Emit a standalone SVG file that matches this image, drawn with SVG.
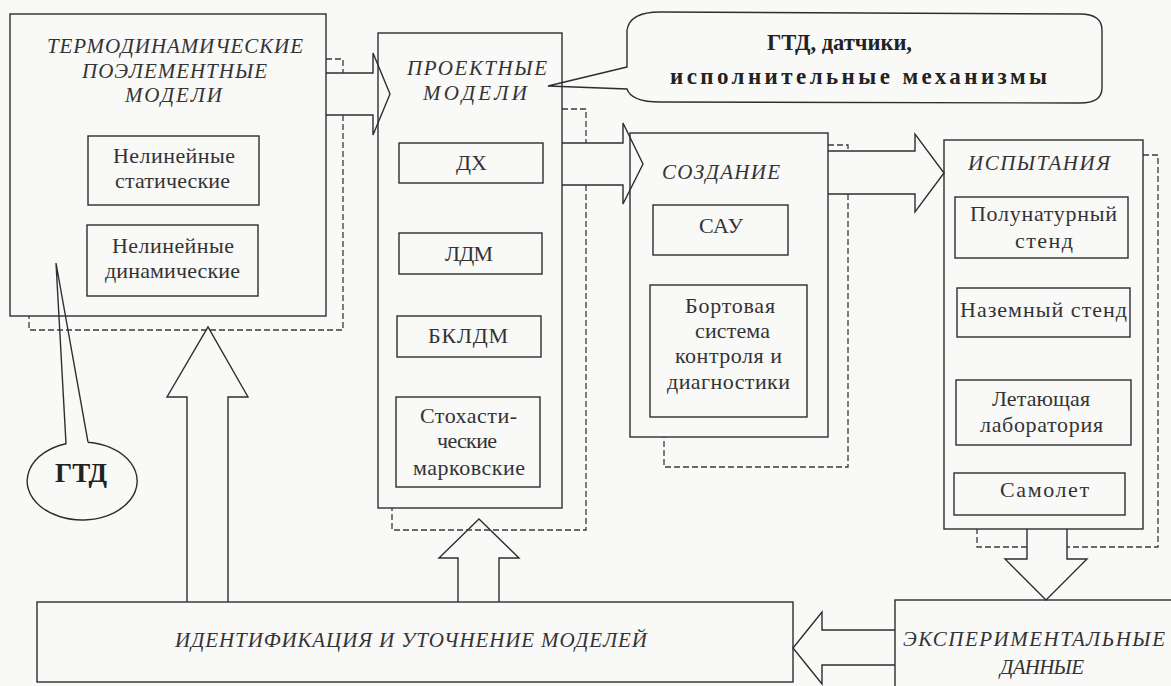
<svg xmlns="http://www.w3.org/2000/svg" width="1171" height="686" viewBox="0 0 1171 686">
<style>
  .bx{fill:none;stroke:#2e2e2e;stroke-width:1.4}
  .ds{fill:none;stroke:#3a3a3a;stroke-width:1.3;stroke-dasharray:6 3}
  .ar{fill:none;stroke:#2e2e2e;stroke-width:1.4;stroke-linejoin:miter}
  .h{font-family:"Liberation Serif","Times New Roman",serif;font-style:italic;font-size:21px;fill:#333}
  .t{font-family:"Liberation Serif","Times New Roman",serif;font-size:22px;fill:#333}
  .b{font-family:"Liberation Serif","Times New Roman",serif;font-weight:bold;font-size:23px;fill:#222}
</style>
<rect x="0" y="0" width="1171" height="686" fill="#f9f9f8"/>

<g id="connectors">
  <!-- box1 -> box2 -->
  <path class="ar" d="M326,73 H373 V53 L390,94 L373,135 V115 H326"/>
  <!-- box2 -> box3 -->
  <path class="ar" d="M562,143 H623 V123 L643,164 L623,204 V185 H562"/>
  <!-- box3 -> box4 -->
  <path class="ar" d="M828,151 H915 V134 L944,173 L915,212 V194 H828"/>
  <!-- box4 -> experimental data -->
  <path class="ar" d="M1027,529 V559 H1005 L1046,600 L1087,559 H1067 V529"/>
  <!-- experimental data -> identification -->
  <path class="ar" d="M895,630 H822 V612 L793,648 L822,684 V665 H895"/>
  <!-- identification -> box1 -->
  <path class="ar" d="M187,602 V397 H167 L208,327 L248,397 H228 V602"/>
  <!-- identification -> box2 -->
  <path class="ar" d="M458,602 V558 H439 L479,519 L519,558 H499 V602"/>
</g>

<g id="callout-gtd-sensors">
  <path class="bx" d="M627,67 L548,86 L627,89 C630,98 640,102 660,102 L1080,103 Q1102,103 1102,88 L1102,30 Q1102,14 1080,14 L660,12 Q630,12 627,30 Z"/>
  <text class="b" x="767" y="50" textLength="145" lengthAdjust="spacingAndGlyphs">ГТД, датчики,</text>
  <text class="b" x="670" y="84" textLength="377" lengthAdjust="spacing">исполнительные механизмы</text>
</g>

<g id="callout-gtd">
  <path class="bx" d="M88,442.2 L56,263 L66,443.7 A55 39 0 1 0 88,442.2"/>
  <text x="81" y="482" text-anchor="middle" style="font-family:'Liberation Serif','Times New Roman',serif;font-weight:bold;font-size:27px;fill:#222">ГТД</text>
</g>

<g id="thermo-models">
  <path class="ds" d="M326,59 H343 V73 M343,115 V330 H29 V316"/>
  <rect class="bx" x="10" y="14" width="316" height="302"/>
  <text class="h" x="47" y="53" textLength="256" lengthAdjust="spacing">ТЕРМОДИНАМИЧЕСКИЕ</text>
  <text class="h" x="82" y="78" textLength="185" lengthAdjust="spacing">ПОЭЛЕМЕНТНЫЕ</text>
  <text class="h" x="125" y="102" textLength="97" lengthAdjust="spacing">МОДЕЛИ</text>
  <g id="nonlinear-static">
    <rect class="bx" x="88" y="136" width="171" height="69"/>
    <text class="t" x="113" y="163" textLength="122" lengthAdjust="spacing">Нелинейные</text>
    <text class="t" x="115" y="188" textLength="115" lengthAdjust="spacing">статические</text>
  </g>
  <g id="nonlinear-dynamic">
    <rect class="bx" x="87" y="225" width="171" height="71"/>
    <text class="t" x="112" y="253" textLength="122" lengthAdjust="spacing">Нелинейные</text>
    <text class="t" x="105" y="278" textLength="135" lengthAdjust="spacing">динамические</text>
  </g>
</g>

<g id="design-models">
  <path class="ds" d="M562,109 H586 V143 M586,185 V530 H392 V508"/>
  <rect class="bx" x="378" y="33" width="184" height="475"/>
  <text class="h" x="407" y="75" textLength="140" lengthAdjust="spacing">ПРОЕКТНЫЕ</text>
  <text class="h" x="423" y="100" textLength="104" lengthAdjust="spacing">МОДЕЛИ</text>
  <g id="dx">
    <rect class="bx" x="399" y="143" width="144" height="40"/>
    <text class="t" x="456" y="170" textLength="31" lengthAdjust="spacing">ДХ</text>
  </g>
  <g id="ldm">
    <rect class="bx" x="399" y="233" width="143" height="41"/>
    <text class="t" x="445" y="261" textLength="48" lengthAdjust="spacing">ЛДМ</text>
  </g>
  <g id="bkldm">
    <rect class="bx" x="397" y="316" width="144" height="41"/>
    <text class="t" x="428" y="343" textLength="80" lengthAdjust="spacing">БКЛДМ</text>
  </g>
  <g id="stochastic">
    <rect class="bx" x="396" y="397" width="144" height="90"/>
    <text class="t" x="420" y="423" textLength="97" lengthAdjust="spacing">Стохасти-</text>
    <text class="t" x="437" y="448" textLength="60" lengthAdjust="spacing">ческие</text>
    <text class="t" x="413" y="475" textLength="112" lengthAdjust="spacing">марковские</text>
  </g>
</g>

<g id="creation">
  <path class="ds" d="M828,145 H848 V151 M848,194 V467 H664 V437"/>
  <rect class="bx" x="630" y="133" width="198" height="304"/>
  <text class="h" x="662" y="179" textLength="118" lengthAdjust="spacing">СОЗДАНИЕ</text>
  <g id="sau">
    <rect class="bx" x="653" y="205" width="135" height="50"/>
    <text class="t" x="699" y="233" textLength="44" lengthAdjust="spacing">САУ</text>
  </g>
  <g id="onboard-system">
    <rect class="bx" x="650" y="285" width="157" height="132"/>
    <text class="t" x="685" y="313" textLength="90" lengthAdjust="spacing">Бортовая</text>
    <text class="t" x="695" y="338" textLength="75" lengthAdjust="spacing">система</text>
    <text class="t" x="675" y="363" textLength="107" lengthAdjust="spacing">контроля и</text>
    <text class="t" x="667" y="389" textLength="123" lengthAdjust="spacing">диагностики</text>
  </g>
</g>

<g id="tests">
  <path class="ds" d="M1143,155 H1158 V547 H1067 M1027,547 H977 V529"/>
  <rect class="bx" x="944" y="140" width="199" height="389"/>
  <text class="h" x="968" y="170" textLength="142" lengthAdjust="spacing">ИСПЫТАНИЯ</text>
  <g id="hil-stand">
    <rect class="bx" x="955" y="197" width="173" height="61"/>
    <text class="t" x="970" y="221" textLength="147" lengthAdjust="spacing">Полунатурный</text>
    <text class="t" x="1015" y="248" textLength="58" lengthAdjust="spacing">стенд</text>
  </g>
  <g id="ground-stand">
    <rect class="bx" x="957" y="288" width="173" height="49"/>
    <text class="t" x="960" y="317" textLength="167" lengthAdjust="spacing">Наземный стенд</text>
  </g>
  <g id="flying-lab">
    <rect class="bx" x="956" y="380" width="175" height="65"/>
    <text class="t" x="992" y="406" textLength="98" lengthAdjust="spacing">Летающая</text>
    <text class="t" x="980" y="432" textLength="123" lengthAdjust="spacing">лаборатория</text>
  </g>
  <g id="aircraft">
    <rect class="bx" x="954" y="473" width="171" height="42"/>
    <text class="t" x="1000" y="497" textLength="89" lengthAdjust="spacing">Самолет</text>
  </g>
</g>

<g id="identification">
  <rect class="bx" x="37" y="602" width="756" height="80"/>
  <text class="h" x="175" y="647" textLength="472" lengthAdjust="spacing">ИДЕНТИФИКАЦИЯ И УТОЧНЕНИЕ МОДЕЛЕЙ</text>
</g>

<g id="experimental-data">
  <rect class="bx" x="895" y="600" width="300" height="100"/>
  <text class="h" x="903" y="646" textLength="262" lengthAdjust="spacing">ЭКСПЕРИМЕНТАЛЬНЫЕ</text>
  <text class="h" x="1000" y="674" textLength="84" lengthAdjust="spacing">ДАННЫЕ</text>
</g>
</svg>
